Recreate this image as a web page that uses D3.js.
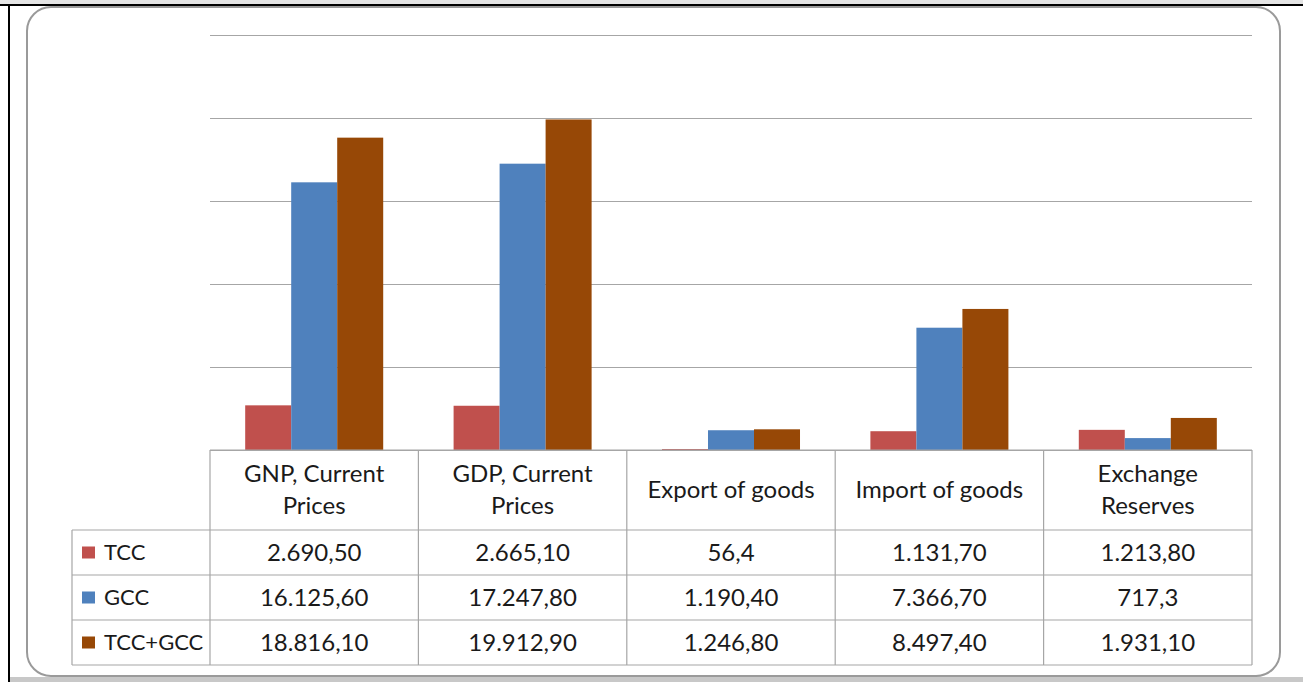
<!DOCTYPE html>
<html>
<head>
<meta charset="utf-8">
<script src="https://cdn.jsdelivr.net/npm/d3@7"></script>
<style>
  body { margin: 0; background: #fff; }
  text { font-family: Lato, "Noto Sans", sans-serif; fill: #1a1a1a; }
</style>
</head>
<body>
<div id="chart"></div>
<script>
// data
const categories = ["GNP, Current Prices", "GDP, Current Prices", "Export of goods", "Import of goods", "Exchange Reserves"];
const headerLines = [["GNP, Current", "Prices"], ["GDP, Current", "Prices"], ["Export of goods"], ["Import of goods"], ["Exchange", "Reserves"]];
const seriesNames = ["TCC", "GCC", "TCC+GCC"];
const tcc = [2690.5, 2665.1, 56.4, 1131.7, 1213.8];
const gcc = [16125.6, 17247.8, 1190.4, 7366.7, 717.3];
const tccGcc = [18816.1, 19912.9, 1246.8, 8497.4, 1931.1];
const tccLabels = ["2.690,50", "2.665,10", "56,4", "1.131,70", "1.213,80"];
const gccLabels = ["16.125,60", "17.247,80", "1.190,40", "7.366,70", "717,3"];
const tccGccLabels = ["18.816,10", "19.912,90", "1.246,80", "8.497,40", "1.931,10"];
const gridTicks = [0, 5000, 10000, 15000, 20000, 25000];

const colors = ["#C0504D", "#4F81BD", "#974806"];
const seriesValues = [tcc, gcc, tccGcc];
const seriesLabels = [tccLabels, gccLabels, tccGccLabels];

const W = 1303, H = 682;
const svg = d3.select("#chart").append("svg")
    .attr("width", W)
    .attr("height", H);

// page frame bits
svg.append("rect").attr("x", 0).attr("y", 0).attr("width", W).attr("height", 4).attr("fill", "#e4e4e4");
svg.append("rect").attr("x", 0).attr("y", 4).attr("width", W).attr("height", 2).attr("fill", "#000");
svg.append("rect").attr("x", 8).attr("y", 4).attr("width", 2).attr("height", H - 4).attr("fill", "#000");
svg.append("rect").attr("x", 10).attr("y", 677).attr("width", W - 10).attr("height", 5).attr("fill", "#c8c8c8");

// rounded chart border
svg.append("rect")
    .attr("x", 27).attr("y", 7)
    .attr("width", 1253).attr("height", 669)
    .attr("rx", 24).attr("ry", 24)
    .attr("fill", "#fff")
    .attr("stroke", "#9a9a9a")
    .attr("stroke-width", 2);

const plotLeft = 210, plotRight = 1252, plotTop = 35, base = 450;

const x = d3.scaleBand().domain(categories).range([plotLeft, plotRight]).padding(0);
const x1 = d3.scaleBand().domain(seriesNames).range([0, x.bandwidth()])
    .paddingInner(0).paddingOuter(0.765);
const y = d3.scaleLinear().domain([0, 25000]).range([base, plotTop]);

// gridlines
const grid = svg.append("g")
    .attr("transform", `translate(${plotLeft},0)`)
    .call(d3.axisLeft(y).tickValues(gridTicks).tickSize(-(plotRight - plotLeft)).tickFormat(""));
grid.select(".domain").remove();
grid.selectAll("line").attr("stroke", "#a6a6a6").attr("stroke-width", 1);

// bars
seriesNames.forEach((s, si) => {
    svg.append("g").selectAll("rect")
        .data(seriesValues[si])
        .enter().append("rect")
        .attr("x", (d, i) => x(categories[i]) + x1(s))
        .attr("y", d => y(d))
        .attr("width", x1.bandwidth())
        .attr("height", d => base - y(d))
        .attr("fill", colors[si]);
});

// data table
const headerBottom = 530, rowH = 45;
const tableBottom = headerBottom + rowH * 3;
const legendLeft = 72;
const lineColor = "#a6a6a6";
const tbl = svg.append("g").attr("stroke", lineColor).attr("stroke-width", 1.2);

// horizontal lines
tbl.append("line").attr("x1", plotLeft).attr("x2", plotRight).attr("y1", base).attr("y2", base);
d3.range(4).forEach(r => {
    const yy = headerBottom + r * rowH;
    tbl.append("line").attr("x1", legendLeft).attr("x2", plotRight).attr("y1", yy).attr("y2", yy);
});
// vertical lines
tbl.append("line").attr("x1", legendLeft).attr("x2", legendLeft).attr("y1", headerBottom).attr("y2", tableBottom);
categories.forEach(c => {
    tbl.append("line").attr("x1", x(c)).attr("x2", x(c)).attr("y1", base).attr("y2", tableBottom);
});
tbl.append("line").attr("x1", plotRight).attr("x2", plotRight).attr("y1", base).attr("y2", tableBottom);

const fs = 24;
// header text
categories.forEach((c, i) => {
    const lines = headerLines[i];
    const cx = x(c) + x.bandwidth() / 2;
    const cy = (base + headerBottom) / 2;
    lines.forEach((ln, li) => {
        svg.append("text")
            .attr("x", cx)
            .attr("y", cy + (li - (lines.length - 1) / 2) * 32)
            .attr("dy", "0.35em")
            .attr("text-anchor", "middle")
            .style("font-size", fs + "px")
            .text(ln);
    });
});

// rows
seriesNames.forEach((s, si) => {
    const cy = headerBottom + si * rowH + rowH / 2;
    svg.append("rect")
        .attr("x", 82).attr("y", cy - 6)
        .attr("width", 13).attr("height", 12)
        .attr("fill", colors[si]);
    svg.append("text")
        .attr("x", 104).attr("y", cy)
        .attr("dy", "0.35em")
        .style("font-size", "22px")
        .text(s);
    seriesLabels[si].forEach((lbl, i) => {
        svg.append("text")
            .attr("x", x(categories[i]) + x.bandwidth() / 2)
            .attr("y", cy)
            .attr("dy", "0.35em")
            .attr("text-anchor", "middle")
            .style("font-size", fs + "px")
            .text(lbl);
    });
});
</script>
</body>
</html>
